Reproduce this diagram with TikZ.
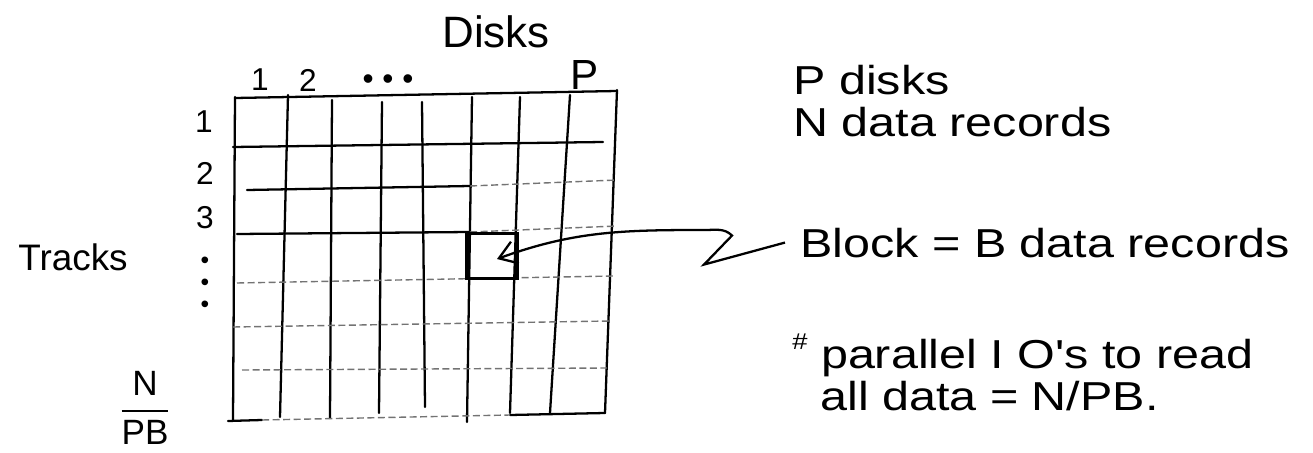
\documentclass[tikz,border=0pt]{standalone}
\usepackage{amsmath}
\usepackage{fontspec}
\setmainfont{Liberation Sans}
\newfontfamily\handfont[FakeStretch=1.2]{Liberation Sans}
\usetikzlibrary{arrows.meta}

\begin{document}
\begin{tikzpicture}[
    x=0.02cm, y=-0.02cm,
    gridline/.style={line width=1.3pt, line cap=round},
    faint/.style={line width=0.8pt, black!55, dash pattern=on 4pt off 2pt},
    cell/.style={draw, line width=2pt, minimum width=1cm, minimum height=0.9cm, inner sep=0pt},
    note/.style={inner sep=0pt, anchor=base west, font=\handfont\fontsize{23}{25}\selectfont},
    lbl/.style={inner sep=0pt, font=\fontsize{18}{20}\selectfont},
    arr/.style={-{Straight Barb[length=3.4mm, width=4.6mm]}, line width=1.3pt},
]
  \useasboundingbox (0,0) rectangle (1313,453);

  % disks (columns)
  \foreach \xa/\ya/\xb/\yb in {235/97/233/420, 288/95/280/417, 332/100/330/418,
      382/102/379/413, 422/102/425/407, 472/97/467/422, 520/97/510/413,
      570/95/550/413, 617/90/605/413}
    \draw[gridline] (\xa,\ya) -- (\xb,\yb);

  % tracks (rows)
  \foreach \xa/\ya/\xb/\yb in {235/98/617/91, 233/147/603/142, 247/190/470/186,
      237/234/470/232, 228/421/262/420, 510/415/605/413}
    \draw[gridline] (\xa,\ya) -- (\xb,\yb);
  \foreach \xa/\ya/\xb/\yb in {470/186/617/180, 470/232/617/226, 237/283/613/276,
      233/327/610/321, 242/370/607/368, 262/420/510/415}
    \draw[faint] (\xa,\ya) -- (\xb,\yb);

  \node[cell] (blk) at (492,256) {};
  \coordinate (tipend) at (497,259);

  \node[lbl, anchor=base west, font=\fontsize{25}{27}\selectfont] (disks) at (442,48) {Disks};
  \node[lbl] (c1) at (260,80) {1};
  \node[lbl] (c2) at (308,80) {2};
  \node[lbl] (cdots) at (388,82) {• • •};
  \node[lbl, font=\fontsize{24}{26}\selectfont] (cp) at (585,75) {P};

  \node[lbl] (r1) at (204,122) {1};
  \node[lbl] (r2) at (205,173) {2};
  \node[lbl] (r3) at (205,218) {3};
  \node[lbl, align=center, font=\fontsize{14}{12.5}\selectfont] (rdots) at (205,285) {•\\•\\•};
  \node[lbl, font=\fontsize{21}{23}\selectfont] (tracks) at (73,257) {Tracks};
  \node[lbl, font=\fontsize{20}{22}\selectfont] (ntracks) at (145,408) {$\dfrac{\mathrm{N}}{\mathrm{PB}}$};

  \node[note] (pdisks) at (793,94) {P disks};
  \node[note] (nrec) at (793,136) {N data records};
  \node[note] (blocktxt) at (800,257) {Block = B data records};
  \node[note] (pario) at (792,368) {\raisebox{0.45em}{\fontsize{13}{13}\selectfont\#} parallel I O's to read};
  \node[note] (alldata) at (820,410) {all data = N/PB.};

  \draw[arr] ([xshift=-0.3cm]blocktxt.west) -- ++(-81,22) -- ++(28,-29)
    to[out=135,in=0] (705,230) to[out=180,in=20] (tipend);
\end{tikzpicture}
\end{document}
